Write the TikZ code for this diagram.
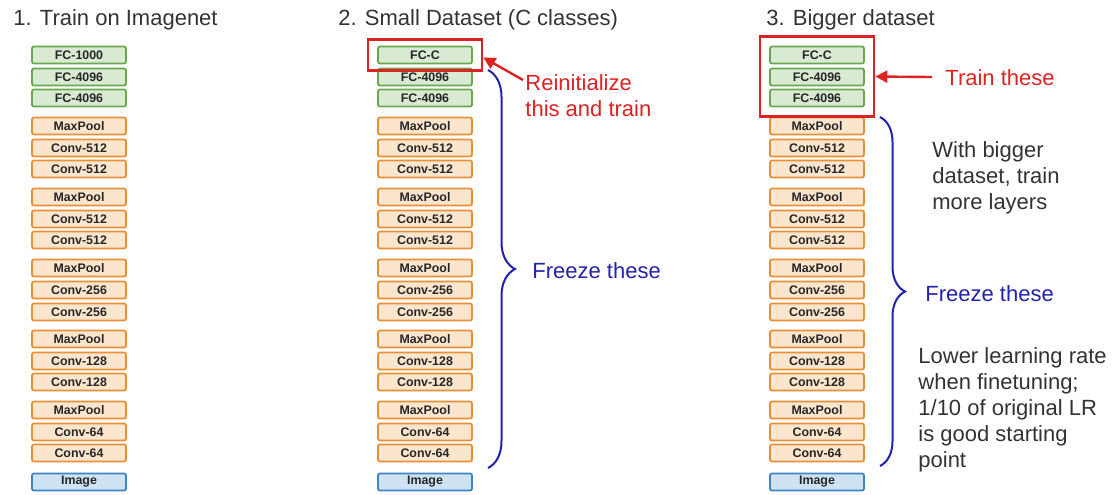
\documentclass[tikz,border=0pt]{standalone}
\usepackage{fontspec}
\setmainfont{Liberation Sans}
\usepackage{xcolor}
\usetikzlibrary{arrows.meta,positioning,fit,decorations.pathreplacing}
\definecolor{fcfill}{HTML}{D9EAD3}
\definecolor{fcdraw}{HTML}{6AA84F}
\definecolor{cvfill}{HTML}{FCE5CD}
\definecolor{cvdraw}{HTML}{E69138}
\definecolor{imfill}{HTML}{CFE2F3}
\definecolor{imdraw}{HTML}{3D85C6}
\definecolor{hlred}{HTML}{DD2222}
\definecolor{frzblue}{HTML}{2222AA}

\begin{document}
\begin{tikzpicture}[
x=0.5pt, y=-0.5pt,
font=\fontsize{11}{13}\selectfont,
layer/.style={draw, line width=0.9pt, rounded corners=1pt, minimum width=47pt, minimum height=8.5pt, inner sep=0pt, font=\fontsize{6.2}{7}\selectfont\bfseries, text=black!85},
fc/.style={layer, fill=fcfill, draw=fcdraw},
conv/.style={layer, fill=cvfill, draw=cvdraw},
img/.style={layer, fill=imfill, draw=imdraw},
hl/.style={draw=hlred, line width=1.2pt, inner xsep=4.6pt, inner ysep=3pt},
redarr/.style={-{Triangle[length=6pt,width=6pt]}, hlred, line width=1.2pt},
brc/.style={decorate, frzblue, line width=1pt},
title/.style={anchor=base west, inner sep=0pt, text=black!80},
redtxt/.style={anchor=west, align=left, inner sep=0pt, text=hlred},
bluetxt/.style={anchor=west, inner sep=0pt, text=frzblue},
note/.style={anchor=west, align=left, inner sep=0pt, text=black!80}
]
\useasboundingbox (0,0) rectangle (1112,494);

% Titles
\node[title] (t1) at (13,25) {1. Train on Imagenet};
\node[title] (t2) at (338,25) {2. Small Dataset (C classes)};
\node[title] (t3) at (766,25) {3. Bigger dataset};

% Column 1: trained on Imagenet
\node[fc] (a1) at (79,55) {FC-1000};
\node[fc] (a2) at (79,77) {FC-4096};
\node[fc] (a3) at (79,98) {FC-4096};
\node[conv] (a4) at (79,126) {MaxPool};
\node[conv] (a5) at (79,148) {Conv-512};
\node[conv] (a6) at (79,169) {Conv-512};
\node[conv] (a7) at (79,197) {MaxPool};
\node[conv] (a8) at (79,219) {Conv-512};
\node[conv] (a9) at (79,240) {Conv-512};
\node[conv] (a10) at (79,268) {MaxPool};
\node[conv] (a11) at (79,290) {Conv-256};
\node[conv] (a12) at (79,312) {Conv-256};
\node[conv] (a13) at (79,339) {MaxPool};
\node[conv] (a14) at (79,361) {Conv-128};
\node[conv] (a15) at (79,382) {Conv-128};
\node[conv] (a16) at (79,410) {MaxPool};
\node[conv] (a17) at (79,432) {Conv-64};
\node[conv] (a18) at (79,453) {Conv-64};
\node[img] (a19) at (79,482) {Image};

% Column 2: small dataset
\node[fc] (b1) at (425,55) {FC-C};
\node[fc] (b2) at (425,77) {FC-4096};
\node[fc] (b3) at (425,98) {FC-4096};
\node[conv] (b4) at (425,126) {MaxPool};
\node[conv] (b5) at (425,148) {Conv-512};
\node[conv] (b6) at (425,169) {Conv-512};
\node[conv] (b7) at (425,197) {MaxPool};
\node[conv] (b8) at (425,219) {Conv-512};
\node[conv] (b9) at (425,240) {Conv-512};
\node[conv] (b10) at (425,268) {MaxPool};
\node[conv] (b11) at (425,290) {Conv-256};
\node[conv] (b12) at (425,312) {Conv-256};
\node[conv] (b13) at (425,339) {MaxPool};
\node[conv] (b14) at (425,361) {Conv-128};
\node[conv] (b15) at (425,382) {Conv-128};
\node[conv] (b16) at (425,410) {MaxPool};
\node[conv] (b17) at (425,432) {Conv-64};
\node[conv] (b18) at (425,453) {Conv-64};
\node[img] (b19) at (425,482) {Image};

% Column 3: bigger dataset
\node[fc] (c1) at (817,55) {FC-C};
\node[fc] (c2) at (817,77) {FC-4096};
\node[fc] (c3) at (817,98) {FC-4096};
\node[conv] (c4) at (817,126) {MaxPool};
\node[conv] (c5) at (817,148) {Conv-512};
\node[conv] (c6) at (817,169) {Conv-512};
\node[conv] (c7) at (817,197) {MaxPool};
\node[conv] (c8) at (817,219) {Conv-512};
\node[conv] (c9) at (817,240) {Conv-512};
\node[conv] (c10) at (817,268) {MaxPool};
\node[conv] (c11) at (817,290) {Conv-256};
\node[conv] (c12) at (817,312) {Conv-256};
\node[conv] (c13) at (817,339) {MaxPool};
\node[conv] (c14) at (817,361) {Conv-128};
\node[conv] (c15) at (817,382) {Conv-128};
\node[conv] (c16) at (817,410) {MaxPool};
\node[conv] (c17) at (817,432) {Conv-64};
\node[conv] (c18) at (817,453) {Conv-64};
\node[img] (c19) at (817,482) {Image};

% Highlight boxes
\node[hl, fit=(b1)] (redA) {};
\node[hl, inner ysep=4.5pt, fit=(c1)(c3)] (redB) {};

% Red notes
\node[redtxt] (reinit) at (525,96) {Reinitialize\\this and train};
\node[redtxt] (trainB) at (945,78) {Train these};
\coordinate (reinittail) at (523,80);
\coordinate (traintail) at (932,77);
\draw[redarr] (reinittail) -- ([yshift=-1.25pt]redA.east);
\draw[redarr] (traintail) -- (redB.east);

% Frozen part
\draw[brc, decoration={brace, amplitude=13.5pt}] (488,70) -- (488,468);
\draw[brc, decoration={brace, amplitude=12.5pt}] (880,117) -- (880,466);
\node[bluetxt] (frzA) at (532,271) {Freeze these};
\node[bluetxt] (frzB) at (925,294) {Freeze these};

% Side notes
\node[note] (bigger) at (932,178) {With bigger\\dataset, train\\more layers};
\node[note] (lower) at (918,410) {Lower learning rate\\when finetuning;\\1/10 of original LR\\is good starting\\point};

\end{tikzpicture}
\end{document}
